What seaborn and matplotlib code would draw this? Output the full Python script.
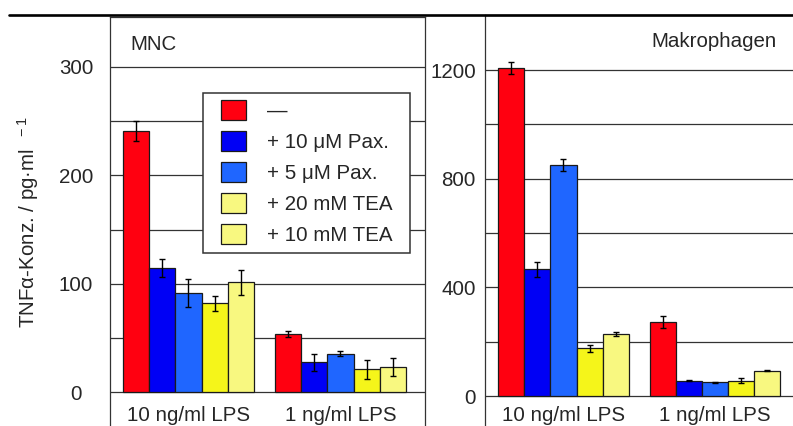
import numpy as np
import pandas as pd
import matplotlib
matplotlib.use("Agg")
import matplotlib.pyplot as plt
import matplotlib.patches as mpatches
from matplotlib.lines import Line2D
from matplotlib.legend_handler import HandlerPatch
import seaborn as sns

# ---------------- data ----------------
groups = ["10 ng/ml LPS", "1 ng/ml LPS"]
treatments = ["—", "+ 10 μM Pax.", "+ 5 μM Pax.", "+ 20 mM TEA", "+ 10 mM TEA"]
bar_colors = ["#FF0010", "#0000F5", "#1F66FF", "#F5F51A", "#F8F880"]
legend_colors = ["#FF0010", "#0000F5", "#1F66FF", "#F8F880", "#F8F880"]

mnc_10 = [241, 114.5, 91.5, 82, 101.5]
mnc_10_err = [9, 8, 13, 7, 11.5]
mnc_1 = [53.5, 27.5, 35.5, 21, 23]
mnc_1_err = [3, 8, 2, 9, 8.5]

mak_10 = [1206, 466, 849, 175, 228]
mak_10_err = [22, 28, 22, 14, 8]
mak_1 = [273, 56, 51, 56, 93]
mak_1_err = [22, 2, 2, 9, 2]

mnc_ticks = [0, 100, 200, 300]
mnc_minor = [50, 150, 250]
mak_ticks = [0, 400, 800, 1200]
mak_minor = [200, 600, 1000]

ylabel = "TNFα-Konz. / pg·ml$^{\\ \\ -1}$"

# ---------------- style ----------------
sns.set_style("white")
FS = 14.8
plt.rcParams["font.family"] = ["Liberation Sans", "DejaVu Sans"]
plt.rcParams["mathtext.fontset"] = "custom"
plt.rcParams["mathtext.rm"] = "Liberation Sans"
plt.rcParams["mathtext.default"] = "regular"

W, H = 793, 426
fig = plt.figure(figsize=(W / 100, H / 100), dpi=100)
EDGE = "#1a1a1a"
SPINE = "#333333"


def make_axes(left, right, top):
    return fig.add_axes([left / W, 0, (right - left) / W, (H - top) / H])


def draw_panel(ax, v10, e10, v1, e1, zero_px, top_px, px_per_unit):
    df = pd.DataFrame({
        "group": np.repeat(groups, len(treatments)),
        "treatment": treatments * 2,
        "value": list(v10) + list(v1),
    })
    sns.barplot(data=df, x="group", y="value", hue="treatment",
                order=groups, hue_order=treatments, palette=bar_colors,
                saturation=1, width=0.862, errorbar=None, edgecolor=EDGE,
                linewidth=0.9, legend=False, ax=ax, zorder=3)
    errs = [e10, e1]
    bar_containers = list(ax.containers)
    for i, cont in enumerate(bar_containers):
        for j, bar in enumerate(cont.patches):
            ax.errorbar(bar.get_x() + bar.get_width() / 2, bar.get_height(),
                        yerr=errs[j][i], fmt="none", ecolor="black",
                        elinewidth=1.0, capsize=2.3, capthick=1.0, zorder=4)
    ax.set_ylim(-(H - zero_px) / px_per_unit, (zero_px - top_px) / px_per_unit)
    ax.set_xlabel("")
    ax.set_ylabel("")
    ax.set_xticks([])
    ax.set_axisbelow(True)
    ax.yaxis.grid(True, which="both", color=SPINE, linewidth=0.9)
    ax.xaxis.grid(False)
    for s in ax.spines.values():
        s.set_color(SPINE)
        s.set_linewidth(0.9)
    ax.spines["bottom"].set_visible(False)


# ---------------- left panel: MNC ----------------
axL = make_axes(110, 425, 17)
draw_panel(axL, mnc_10, mnc_10_err, mnc_1, mnc_1_err, 392, 17, 325 / 300)
axL.set_xlim(-0.516, 1.556)
axL.set_yticks(mnc_ticks)
axL.set_yticks(mnc_minor, minor=True)
axL.set_yticklabels([str(t) for t in mnc_ticks])
axL.tick_params(axis="y", which="both", length=0, pad=24.5, labelsize=FS)
plt.setp(axL.get_yticklabels(), ha="center")
axL.text((130 - 110) / 315, (H - 49.5) / (H - 17), "MNC", transform=axL.transAxes,
         ha="left", va="baseline", fontsize=FS)
for j, g in enumerate(groups):
    axL.text(j, (H - 421) / (H - 17), g, transform=axL.get_xaxis_transform(),
             ha="center", va="baseline", fontsize=FS)


def legend_patch(legend, orig_handle, xdescent, ydescent, width, height, fontsize):
    pw, ph = 18.0, 14.4
    return mpatches.Rectangle((-xdescent + width - pw, -ydescent + (height - ph) / 2), pw, ph)


handles = [mpatches.Patch(facecolor=c, edgecolor=EDGE, linewidth=0.9) for c in legend_colors]
leg = axL.legend(handles, treatments, loc="upper left",
                 bbox_to_anchor=(203 / W, 1 - 253 / H, 207 / W, 160 / H),
                 bbox_transform=fig.transFigure, mode="expand", borderaxespad=0,
                 frameon=True, fancybox=False, framealpha=1, edgecolor=SPINE,
                 fontsize=FS, handlelength=1.72, handleheight=0.97,
                 handletextpad=1.0, labelspacing=0.536, borderpad=0.37,
                 handler_map={mpatches.Patch: HandlerPatch(patch_func=legend_patch)})
leg.get_frame().set_linewidth(1.1)
leg.set_zorder(10)

# ---------------- right panel: Makrophagen ----------------
axR = make_axes(485, 793, 15)
draw_panel(axR, mak_10, mak_10_err, mak_1, mak_1_err, 396, 15, 326 / 1200)
axR.set_xlim(-0.518, 1.515)
axR.spines["right"].set_visible(False)
axR.set_yticks(mak_ticks)
axR.set_yticks(mak_minor, minor=True)
axR.set_yticklabels([str(t) for t in mak_ticks])
axR.tick_params(axis="y", which="both", length=0, pad=6.5, labelsize=FS)
axR.text((777 - 485) / 308, (H - 47.3) / (H - 15), "Makrophagen", transform=axR.transAxes,
         ha="right", va="baseline", fontsize=FS)
for j, g in enumerate(groups):
    axR.text(j, (H - 421) / (H - 15), g, transform=axR.get_xaxis_transform(),
             ha="center", va="baseline", fontsize=FS)

# ---------------- y label and top rule ----------------
fig.text(28 / W, 1 - 222 / H, ylabel, rotation=90, ha="center", va="center", fontsize=FS)
fig.add_artist(Line2D([9 / W, 1], [1 - 14.5 / H] * 2, transform=fig.transFigure,
                      color="black", linewidth=1.9))

fig.savefig("out.png", dpi=100)
